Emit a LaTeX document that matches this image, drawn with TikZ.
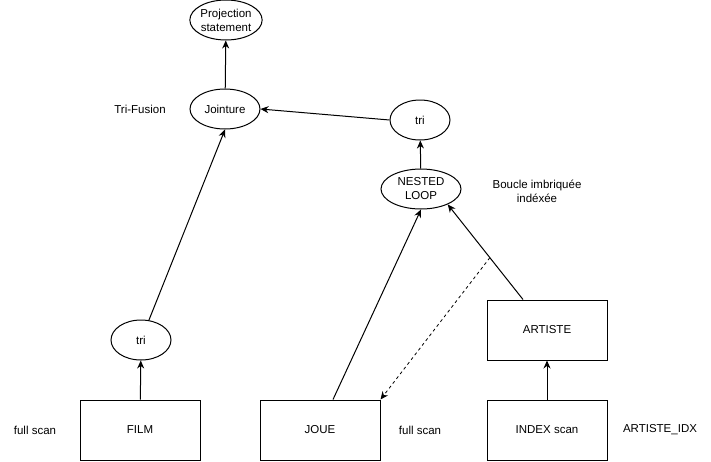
\documentclass[tikz,border=0pt]{standalone}
\usepackage{fontspec}
\setmainfont{Liberation Sans}
\usetikzlibrary{shapes,arrows.meta,calc}

\begin{document}
\begin{tikzpicture}[x=1pt,y=-1pt,line width=1pt,
        every node/.style={font=\fontsize{11.5}{14}\selectfont,align=center},
        oval/.style={draw,ellipse,minimum width=70pt,minimum height=40pt,inner sep=0pt},
        smalloval/.style={oval,minimum width=60pt},
        table/.style={draw,rectangle,minimum width=120pt,minimum height=60pt,inner sep=0pt},
        arr/.style={-{Stealth[length=8pt,width=7pt]}}]

        \useasboundingbox (0,0) rectangle (711,461);

        % operateurs
        \node[oval] (proj) at (226,20) {Projection\\statement};
        \node[oval] (jointure) at (225,109) {Jointure};
        \node[smalloval] (tri2) at (420,120) {tri};
        \node[oval,minimum width=80pt] (nl) at (421,189) {NESTED\\LOOP};
        \node[smalloval] (tri1) at (141,340) {tri};

        % tables
        \node[table] (film) at (140,430) {FILM};
        \node[table] (joue) at (320,430) {JOUE};
        \node[table] (artiste) at (547,330) {ARTISTE};
        \node[table] (index) at (547,430) {INDEX scan};

        % annotations
        \node (tf) at (140,109) {Tri-Fusion};
        \node (bi) at (537,191) {Boucle imbriquée\\indéxée};
        \node (fs1) at (35,430) {full scan};
        \node (fs2) at (420,430) {full scan};
        \node (idx) at (660,430) {ARTISTE\_IDX};

        \draw[arr] (jointure) -- (proj);
        \draw[arr] (tri2.west) -- (jointure.east);
        \draw[arr] (nl) -- (tri2);
        \draw[arr] (tri1) -- (jointure.south);
        \draw[arr] (film) -- (tri1);
        \draw[arr] ([xshift=13pt]joue.north) -- (nl.south);
        \draw[arr] ([xshift=-24pt]artiste.north) -- (nl.-30);
        \draw[arr] (index) -- (artiste);

        \coordinate (d) at ($([xshift=-24pt]artiste.north)!0.44!(nl.-30)$);
        \draw[arr,dashed,line width=0.8pt] (d) -- (joue.north east);
\end{tikzpicture}
\end{document}
